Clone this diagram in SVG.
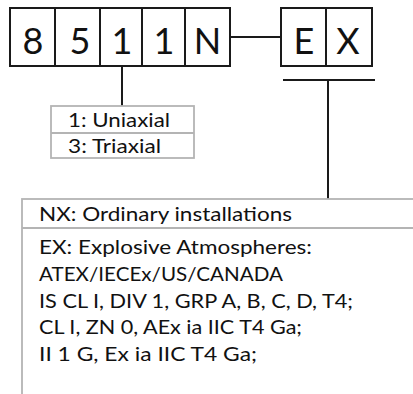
<svg xmlns="http://www.w3.org/2000/svg" width="413" height="394" viewBox="0 0 413 394">
<style>
.cell{fill:#fff;stroke:#1a1a1a;stroke-width:2}
.big{font-family:Lato,"Liberation Sans",sans-serif;font-size:36px;fill:#111;text-anchor:middle}
.lbl{font-family:Lato,"Liberation Sans",sans-serif;font-size:20px;fill:#111}
.tbl{fill:#fff;stroke:#b4b4b4;stroke-width:1.8}
.conn{stroke:#1a1a1a;stroke-width:2;fill:none}
</style>
<rect width="413" height="394" fill="#fff"/>
<g id="connectors">
<line class="conn" x1="230" y1="37" x2="281" y2="37"/>
<line class="conn" x1="122" y1="66" x2="122" y2="106"/>
<line class="conn" x1="283" y1="80" x2="375" y2="80"/>
<line class="conn" x1="328" y1="80" x2="328" y2="199"/>
</g>
<g id="model-code">
<rect class="cell" x="10" y="8" width="45" height="58"/>
<rect class="cell" x="55" y="8" width="45" height="58"/>
<rect class="cell" x="100" y="8" width="42" height="58"/>
<rect class="cell" x="142" y="8" width="43" height="58"/>
<rect class="cell" x="185" y="8" width="45" height="58"/>
<text class="big" x="33" y="54">8</text>
<text class="big" x="80" y="54">5</text>
<text class="big" x="122" y="54">1</text>
<text class="big" x="164" y="54">1</text>
<text class="big" x="207.5" y="54">N</text>
</g>
<g id="suffix">
<rect class="cell" x="281" y="8" width="45" height="58"/>
<rect class="cell" x="326" y="8" width="46" height="58"/>
<text class="big" x="304" y="54">E</text>
<text class="big" x="348" y="54">X</text>
</g>
<g id="axis-options">
<rect class="tbl" x="51" y="106" width="143" height="52"/>
<line class="tbl" x1="51" y1="133" x2="194" y2="133"/>
<text class="lbl" x="68" y="127" textLength="102" lengthAdjust="spacingAndGlyphs">1: Uniaxial</text>
<text class="lbl" x="68" y="153" textLength="93" lengthAdjust="spacingAndGlyphs">3: Triaxial</text>
</g>
<g id="approval-options">
<rect class="tbl" x="22" y="199" width="400" height="210"/>
<line class="tbl" x1="22" y1="228" x2="413" y2="228"/>
<text class="lbl" x="39" y="221" textLength="253" lengthAdjust="spacingAndGlyphs">NX: Ordinary installations</text>
<text class="lbl" x="39" y="254" textLength="273" lengthAdjust="spacingAndGlyphs">EX: Explosive Atmospheres:</text>
<text class="lbl" x="39" y="281" textLength="244" lengthAdjust="spacingAndGlyphs">ATEX/IECEx/US/CANADA</text>
<text class="lbl" x="39" y="308" textLength="314" lengthAdjust="spacingAndGlyphs">IS CL I, DIV 1, GRP A, B, C, D, T4;</text>
<text class="lbl" x="39" y="334" textLength="263" lengthAdjust="spacingAndGlyphs">CL I, ZN 0, AEx ia IIC T4 Ga;</text>
<text class="lbl" x="39" y="361" textLength="218" lengthAdjust="spacingAndGlyphs">II 1 G, Ex ia IIC T4 Ga;</text>
</g>
</svg>
